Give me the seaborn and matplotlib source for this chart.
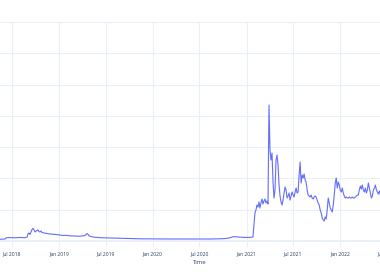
import matplotlib
matplotlib.use("Agg")
import matplotlib.pyplot as plt
import matplotlib.dates as mdates
import numpy as np
import pandas as pd
import seaborn as sns

# ---- data ----
dates_a = [
    "2018-05-15", "2018-05-27", "2018-06-04", "2018-06-08", "2018-06-23", "2018-07-13",
    "2018-08-01", "2018-08-21", "2018-08-29", "2018-09-01", "2018-09-05", "2018-09-09",
    "2018-09-13", "2018-09-17", "2018-09-21", "2018-09-25", "2018-09-29", "2018-10-03",
    "2018-10-07", "2018-10-10", "2018-10-14", "2018-10-18", "2018-10-22", "2018-10-26",
    "2018-11-03", "2018-11-11", "2018-11-18", "2018-11-26", "2018-12-08", "2018-12-20",
    "2019-01-04", "2019-01-16", "2019-01-28", "2019-02-12", "2019-02-28", "2019-03-16",
    "2019-03-31", "2019-04-12", "2019-04-16", "2019-04-20", "2019-04-24", "2019-04-27",
    "2019-05-05", "2019-05-17", "2019-06-02", "2019-06-21", "2019-07-18", "2019-08-19",
    "2019-09-19", "2019-10-04", "2019-11-12", "2019-12-21", "2020-01-29", "2020-03-09",
    "2020-04-17", "2020-05-26", "2020-07-04", "2020-08-12", "2020-09-20", "2020-10-13",
    "2020-10-25", "2020-11-02", "2020-11-09", "2020-11-17", "2020-11-29", "2020-12-14",
    "2020-12-30", "2021-01-15", "2021-01-26",
]
values_a = [
    0.54, 0.58, 0.64, 1.02, 1.09, 1.02,
    1.12, 1.05, 1.28, 2.24, 2.56, 2.08,
    2.88, 3.67, 4.06, 3.51, 2.88, 3.19,
    3.35, 3.58, 3.04, 2.88, 3.19, 2.72,
    2.56, 2.46, 2.40, 2.24, 2.17, 2.08,
    1.92, 1.76, 1.82, 1.66, 1.60, 1.53,
    1.60, 1.76, 2.08, 2.40, 2.08, 1.66,
    1.44, 1.21, 1.12, 1.02, 0.96, 0.86,
    0.80, 0.77, 0.70, 0.67, 0.64, 0.64,
    0.64, 0.61, 0.64, 0.64, 0.70, 0.80,
    0.96, 1.18, 1.34, 1.37, 1.28, 1.18,
    1.12, 1.15, 1.28,
]

start_b = "2021-01-30"
step_b = "94h"
values_b = [
    5.11, 8.95, 9.90, 11.50, 10.86, 12.46, 10.54, 12.14, 13.42, 11.82,
    12.78, 13.42, 12.14, 12.78, 11.82, 43.45, 29.07, 25.88, 28.12, 18.85,
    13.74, 16.29, 25.88, 27.48, 24.28, 17.89, 14.38, 12.46, 11.50, 13.10,
    15.34, 17.25, 16.29, 13.74, 14.38, 15.34, 13.10, 14.38, 15.65, 14.70,
    14.06, 15.65, 16.93, 15.34, 15.65, 21.09, 25.24, 18.53, 21.09, 20.13,
    21.41, 19.49, 18.85, 16.29, 14.70, 14.38, 14.06, 14.70, 13.74, 13.42,
    14.06, 14.38, 14.06, 13.10, 12.14, 11.50, 9.90, 8.95, 7.35, 6.71,
    6.39, 7.67, 7.03, 9.90, 13.74, 12.14, 10.54, 9.90, 9.27, 11.50,
    14.70, 18.53, 20.13, 16.93, 18.85, 17.89, 16.29, 15.65, 16.93, 15.34,
    14.38, 13.74, 14.06, 13.74, 13.74, 14.06, 13.74, 13.74, 14.06, 13.74,
    13.74, 14.06, 14.38, 14.70, 14.70, 16.29, 17.57, 16.61, 17.89, 16.29,
    15.65, 16.93, 15.34, 16.29, 18.53, 16.93, 15.34, 13.74, 14.38, 16.29,
    16.93, 17.89, 16.29, 15.65, 15.02, 15.97, 14.70,
]

tick_dates = ["2018-07-01", "2019-01-01", "2019-07-01", "2020-01-01", "2020-07-01",
              "2021-01-01", "2021-07-01", "2022-01-01", "2022-07-01"]
tick_labels = ["Jul 2018", "Jan 2019", "Jul 2019", "Jan 2020", "Jul 2020",
               "Jan 2021", "Jul 2021", "Jan 2022", "Jul 2022"]
y_ticks = [0, 10, 20, 30, 40, 50, 60, 70]
x_title = "Time"

# ---- build frame ----
dates_b = pd.date_range(start_b, periods=len(values_b), freq=step_b)
df = pd.DataFrame({
    "Time": list(pd.to_datetime(dates_a)) + list(dates_b),
    "value": values_a + values_b,
})

sns.set_theme(style="white")
plt.rcParams["font.family"] = ["Open Sans", "DejaVu Sans"]

W, H = 380, 280
fig = plt.figure(figsize=(W / 100, H / 100), dpi=100)
fig.patch.set_facecolor("white")
# plot area runs past both figure edges (cropped view)
left_px, right_px, top_px, bottom_px = -20, 420, 22, 247
ax = fig.add_axes([left_px / W, 1 - bottom_px / H,
                   (right_px - left_px) / W, (bottom_px - top_px) / H])
ax.set_facecolor("white")

grid_c = "#EBF0F8"
for t in tick_dates:
    ax.axvline(pd.Timestamp(t), color=grid_c, lw=0.8, zorder=0)
for yv in y_ticks:
    ax.axhline(yv, color=grid_c, lw=1.4 if yv == 0 else 0.8, zorder=0)

sns.lineplot(data=df, x="Time", y="value", ax=ax, color="#636efa",
             linewidth=0.8, estimator=None, sort=True)

ax.set_xlim(pd.Timestamp("2018-02-26"), pd.Timestamp("2022-11-09"))
ax.set_ylim(-1.92, 70)
ax.set_xticks([pd.Timestamp(t) for t in tick_dates])
ax.set_xticklabels(tick_labels)
ax.set_yticks(y_ticks)
ax.set_yticklabels([])
ax.tick_params(axis="x", length=0, pad=3.0, labelsize=3.6, colors="#2a3f5f")
ax.tick_params(axis="y", length=0)
ax.set_xlabel(x_title, fontsize=4.2, color="#2a3f5f", labelpad=3.0)
ax.set_ylabel("")
for s in ax.spines.values():
    s.set_visible(False)

fig.savefig("out.png", dpi=100)
